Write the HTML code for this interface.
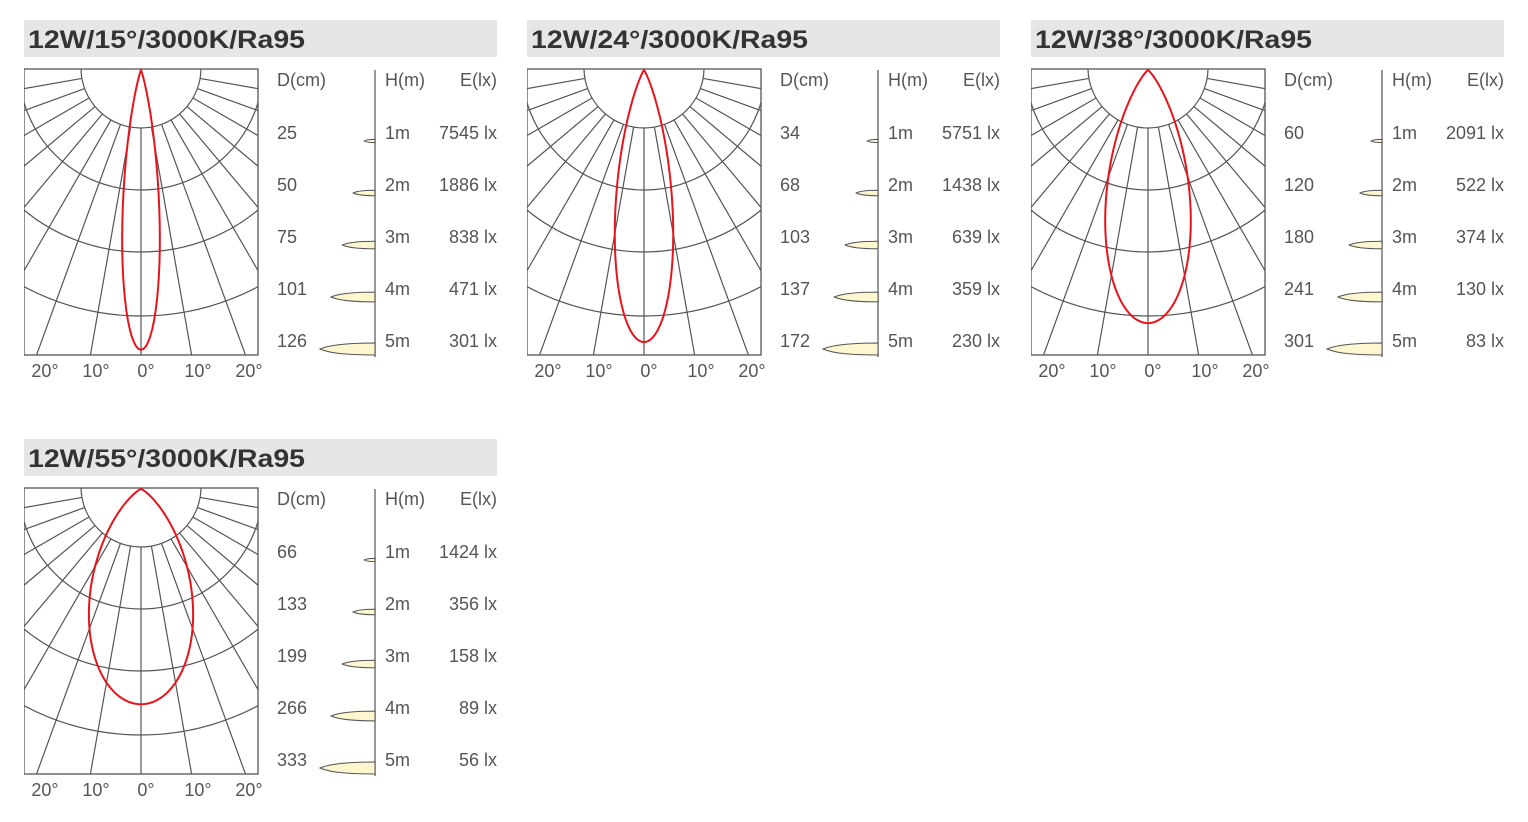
<!DOCTYPE html>
<html><head><meta charset="utf-8"><style>
body{margin:0;background:#fff;width:1528px;height:822px;overflow:hidden;position:relative;font-family:"Liberation Sans",sans-serif}
svg{position:absolute;overflow:hidden}
</style></head><body>
<div id="root"></div>
<script>
const titles=["12W/15°/3000K/Ra95","12W/24°/3000K/Ra95","12W/38°/3000K/Ra95","12W/55°/3000K/Ra95"];
const beamAngles=[15,24,38,55];
const peakRel=[0.975,0.948,0.882,0.75];
const heights=["1m","2m","3m","4m","5m"];
const diameters=[[25,50,75,101,126],[34,68,103,137,172],[60,120,180,241,301],[66,133,199,266,333]];
const lux=[[7545,1886,838,471,301],[5751,1438,639,359,230],[2091,522,374,130,83],[1424,356,158,89,56]];
const angleTicks=["20°","10°","0°","10°","20°"];
const origins=[[24,20],[527,20],[1031,20],[24,439]];
const NS="http://www.w3.org/2000/svg";
const root=document.getElementById('root');
function mk(tag,attrs,parent){const e=document.createElementNS(NS,tag);for(const k in attrs)e.setAttribute(k,attrs[k]);parent.appendChild(e);return e;}
const cx=117,cy=48,fullR=287;
titles.forEach((t,p)=>{
  const svg=document.createElementNS(NS,'svg');
  svg.setAttribute('width',478);svg.setAttribute('height',365);
  svg.style.left=origins[p][0]+'px';svg.style.top=origins[p][1]+'px';
  
  
  root.appendChild(svg);
  const band=mk('rect',{x:0,y:0,width:473,height:37,fill:'#e6e6e7'},svg);
  
  
  const tt=mk('text',{x:4,y:28,'font-size':25,'font-weight':'bold',fill:'#333',textLength:277,lengthAdjust:'spacingAndGlyphs'},svg);
  tt.textContent=t;
  
  
  const clipId='clip'+p;
  const defs=mk('defs',{},svg);
  const cp=mk('clipPath',{id:clipId},defs);
  mk('rect',{x:0,y:49,width:234,height:286},cp);
  const g=mk('g',{'clip-path':'url(#'+clipId+')',stroke:'#555','stroke-width':1.2,fill:'none'},svg);
  
  
  [60,122,184,248].forEach(r=>mk('circle',{cx:cx,cy:cy,r:r},g));
  for(let k=-9;k<=9;k++){const a=k*10*Math.PI/180;
    mk('line',{x1:cx+60*Math.sin(a),y1:cy+60*Math.cos(a),x2:cx+500*Math.sin(a),y2:cy+500*Math.cos(a)},g);}
  const box=mk('rect',{x:0,y:49,width:234,height:286,fill:'none',stroke:'#555','stroke-width':1.3},svg);
  
  
  const n=Math.log(0.5)/Math.log(Math.cos(beamAngles[p]/2*Math.PI/180));
  const L=peakRel[p]*fullR;let d='';
  for(let deg=-90;deg<=90;deg+=0.5){const a=deg*Math.PI/180;const r=L*Math.pow(Math.cos(a),n);
    d+=(d?'L':'M')+(cx+r*Math.sin(a)).toFixed(2)+','+(cy+2+r*Math.cos(a)).toFixed(2);}
  const curve=mk('path',{d:d+'Z',fill:'none',stroke:'#e8141b','stroke-width':2},svg);
  
  
  const tx=[21,72,122,174,225];
  angleTicks.forEach((s,i)=>{const e=mk('text',{x:tx[i],y:357,'text-anchor':'middle','font-size':18,fill:'#555'},svg);e.textContent=s;
    
    });
  const vl=mk('line',{x1:351,y1:50,x2:351,y2:337,stroke:'#777','stroke-width':1.5},svg);
  
  
  [['D(cm)',253,'start'],['H(m)',361,'start'],['E(lx)',473,'end']].forEach(h=>{
    const e=mk('text',{x:h[1],y:66,'text-anchor':h[2],'font-size':18,fill:'#555'},svg);e.textContent=h[0];
    
    });
  const dmax=Math.max(...diameters[p]);
  heights.forEach((h,i)=>{
    const y=119+52*i;
    const a=mk('text',{x:253,y:y,'font-size':18,fill:'#555'},svg);a.textContent=diameters[p][i];
    
    
    const b=mk('text',{x:361,y:y,'font-size':18,fill:'#555'},svg);b.textContent=h;
    
    
    const c=mk('text',{x:473,y:y,'text-anchor':'end','font-size':18,fill:'#555'},svg);c.textContent=lux[p][i]+' lx';
    
    
    const w=55*diameters[p][i]/dmax,hh=1.6+1.1*i,ey=121+52*i;
    const cone=mk('path',{d:`M351,${ey-hh} C${351-w*0.5},${ey-hh} ${351-w*0.85},${ey-hh*0.6} ${351-w},${ey} C${351-w*0.8},${ey+hh*0.8} ${351-w*0.45},${ey+hh} 351,${ey+hh} Z`,fill:'#fdf6cf',stroke:'#555','stroke-width':1},svg);
    
    
  });
});
</script>
</body></html>
